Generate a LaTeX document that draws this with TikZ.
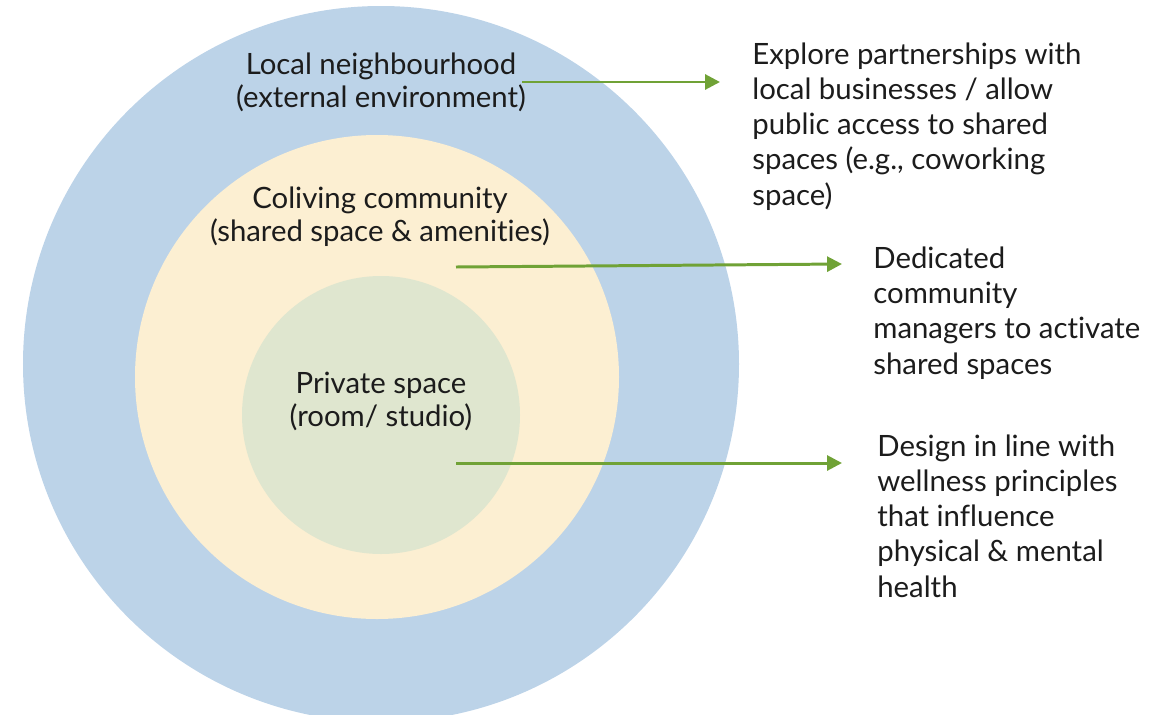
\documentclass[tikz,border=0pt]{standalone}
\usepackage{fontspec}
\setmainfont[Ligatures=NoCommon]{Lato}
\usetikzlibrary{arrows.meta}
\definecolor{ringblue}{HTML}{BCD3E8}
\definecolor{ringyellow}{HTML}{FCEFD2}
\definecolor{ringgreen}{HTML}{DFE6CF}
\definecolor{arrowgreen}{HTML}{70A236}
\definecolor{textgrey}{HTML}{1C1C1C}
\begin{document}
\begin{tikzpicture}[
  ringlabel/.style={anchor=base, align=center, inner sep=0pt, text=textgrey,
    font=\fontsize{16.7}{18.5}\selectfont},
  remark/.style={anchor=base west, align=left, inner sep=0pt, text=textgrey,
    font=\fontsize{16.7}{20}\selectfont},
  pointer/.style={draw=arrowgreen, line width=1.7pt,
    -{Triangle[length=8.5pt,width=8.5pt]}}
]
\useasboundingbox (0,0) rectangle (23.34,-14.28);

\fill [ringblue] (7.62,-7.28) circle (7.16);
\fill [ringyellow] (7.54,-7.54) circle (4.84);
\fill [ringgreen] (7.62,-8.30) circle (2.78);

\node [ringlabel] (local) at (7.62,-2.14) {Local neighbourhood\\(external environment)};
\node [ringlabel] (coliving) at (7.60,-4.82) {Coliving community\\(shared space \& amenities)};
\node [ringlabel] (private) at (7.62,-8.52) {Private space\\(room/ studio)};

\node [remark] (explore) at (15.04,-4.10) {Explore partnerships with\\local businesses / allow\\public access to shared\\spaces (e.g., coworking\\space)};
\node [remark] (managers) at (17.46,-7.48) {Dedicated\\community\\managers to activate\\shared spaces};
\node [remark] (design) at (17.54,-11.94) {Design in line with\\wellness principles\\that influence\\physical \& mental\\health};

\coordinate (s1) at (10.44,-1.64);
\coordinate (e1) at (14.40,-1.64);
\coordinate (s2) at (9.12,-5.34);
\coordinate (e2) at (16.84,-5.28);
\coordinate (s3) at (9.12,-9.26);
\coordinate (e3) at (16.84,-9.26);

\draw [pointer] (s1) -- (e1);
\draw [pointer] (s2) -- (e2);
\draw [pointer] (s3) -- (e3);

\end{tikzpicture}
\end{document}
